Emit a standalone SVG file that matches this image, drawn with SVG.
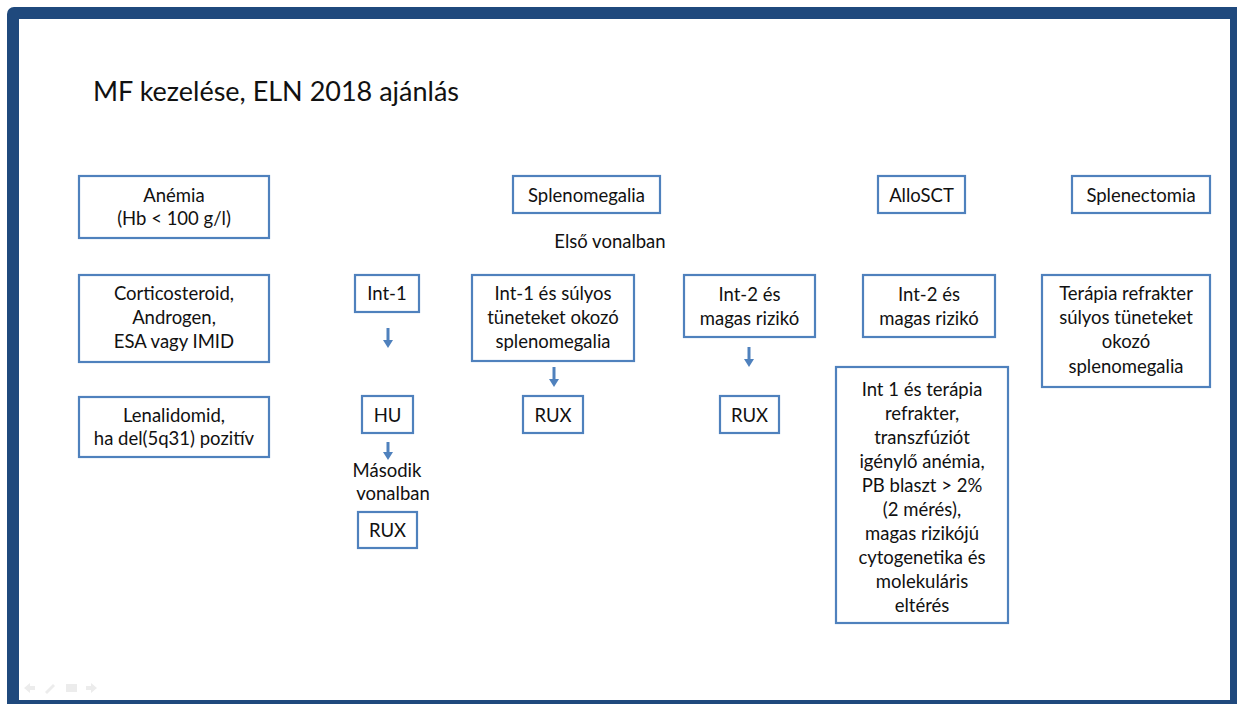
<svg xmlns="http://www.w3.org/2000/svg" width="1237" height="704" viewBox="0 0 1237 704">
<style>
.box{fill:#fff;stroke:#4F81BD;stroke-width:2.2}
.t{font-family:Lato,"Open Sans","Liberation Sans",sans-serif;font-size:18.5px;fill:#111;text-anchor:middle}
.title{font-family:Lato,"Open Sans","Liberation Sans",sans-serif;font-size:27px;fill:#111}
.arr{stroke:#4F81BD;stroke-width:3;fill:none;marker-end:url(#ah)}
</style>
<defs>
<marker id="ah" markerWidth="10" markerHeight="10" refX="1" refY="5" orient="auto" markerUnits="userSpaceOnUse">
<path d="M0,0 L8,5 L0,10 Z" fill="#4F81BD"/>
</marker>
</defs>
<rect x="7" y="7" width="1250" height="720" rx="7" fill="#1F497D"/>
<rect x="19" y="19" width="1211" height="681" fill="#fff"/>
<g id="icons" fill="#ececec">
<path d="M24,688 L30,683 L30,686 L35,686 L35,690 L30,690 L30,693 Z"/>
<path d="M45,692 L53,684 L55,686 L47,694 Z"/>
<rect x="66" y="684" width="11" height="8"/>
<path d="M97,688 L91,683 L91,686 L86,686 L86,690 L91,690 L91,693 Z"/>
</g>
<text class="title" x="93" y="101">MF kezelése, ELN 2018 ajánlás</text>
<g id="anemia"><rect class="box" x="79" y="176" width="190" height="62"/><text class="t" x="174" y="202">Anémia</text><text class="t" x="174" y="225">(Hb &lt; 100 g/l)</text></g>
<g id="cortico"><rect class="box" x="79" y="275" width="190" height="87"/><text class="t" x="174" y="300">Corticosteroid,</text><text class="t" x="174" y="324">Androgen,</text><text class="t" x="174" y="348">ESA vagy IMID</text></g>
<g id="lenalidomid"><rect class="box" x="79" y="397" width="190" height="60"/><text class="t" x="174" y="422">Lenalidomid,</text><text class="t" x="174" y="445">ha del(5q31) pozitív</text></g>
<g id="splenomegalia"><rect class="box" x="513" y="176" width="147" height="37"/><text class="t" x="586.5" y="202">Splenomegalia</text></g>
<g id="allosct"><rect class="box" x="878" y="176" width="87" height="37"/><text class="t" x="921.5" y="202">AlloSCT</text></g>
<g id="splenectomia"><rect class="box" x="1072" y="176" width="138" height="37"/><text class="t" x="1141" y="202">Splenectomia</text></g>
<g id="elso"><text class="t" x="610" y="248">Első vonalban</text></g>
<g id="int1"><rect class="box" x="355" y="275" width="64" height="37"/><text class="t" x="387" y="300">Int-1</text></g>
<g id="int1sulyos"><rect class="box" x="472" y="275" width="162" height="86"/><text class="t" x="553" y="300">Int-1 és súlyos</text><text class="t" x="553" y="324">tüneteket okozó</text><text class="t" x="553" y="348">splenomegalia</text></g>
<g id="int2a"><rect class="box" x="684" y="275" width="131" height="62"/><text class="t" x="749.5" y="301">Int-2 és</text><text class="t" x="749.5" y="325">magas rizikó</text></g>
<g id="int2b"><rect class="box" x="863" y="275" width="132" height="62"/><text class="t" x="929" y="301">Int-2 és</text><text class="t" x="929" y="325">magas rizikó</text></g>
<g id="terapia"><rect class="box" x="1042" y="275" width="168" height="112"/><text class="t" x="1126" y="300">Terápia refrakter</text><text class="t" x="1126" y="324">súlyos tüneteket</text><text class="t" x="1126" y="348">okozó</text><text class="t" x="1126" y="373">splenomegalia</text></g>
<g id="hu"><rect class="box" x="362" y="396" width="51" height="37"/><text class="t" x="387.5" y="422">HU</text></g>
<g id="rux1"><rect class="box" x="523" y="396" width="60" height="37"/><text class="t" x="553" y="422">RUX</text></g>
<g id="rux2"><rect class="box" x="720" y="396" width="59" height="37"/><text class="t" x="749.5" y="422">RUX</text></g>
<g id="masodik"><text class="t" x="387" y="477">Második</text><text class="t" x="393" y="500">vonalban</text></g>
<g id="rux3"><rect class="box" x="358" y="512" width="59" height="36"/><text class="t" x="387.5" y="537">RUX</text></g>
<g id="allo-crit"><rect class="box" x="836" y="367" width="172" height="256"/>
<text class="t" x="922" y="396">Int 1 és terápia</text>
<text class="t" x="922" y="420">refrakter,</text>
<text class="t" x="922" y="444">transzfúziót</text>
<text class="t" x="922" y="468">igénylő anémia,</text>
<text class="t" x="922" y="492">PB blaszt &gt; 2%</text>
<text class="t" x="922" y="516">(2 mérés),</text>
<text class="t" x="922" y="540">magas rizikójú</text>
<text class="t" x="922" y="564">cytogenetika és</text>
<text class="t" x="922" y="588">molekuláris</text>
<text class="t" x="922" y="612">eltérés</text>
</g>
<g id="connectors">
<line class="arr" x1="388" y1="328" x2="388" y2="341"/>
<line class="arr" x1="388" y1="442" x2="388" y2="453"/>
<line class="arr" x1="554" y1="367" x2="554" y2="380"/>
<line class="arr" x1="749" y1="347" x2="749" y2="360"/>
</g>
</svg>
